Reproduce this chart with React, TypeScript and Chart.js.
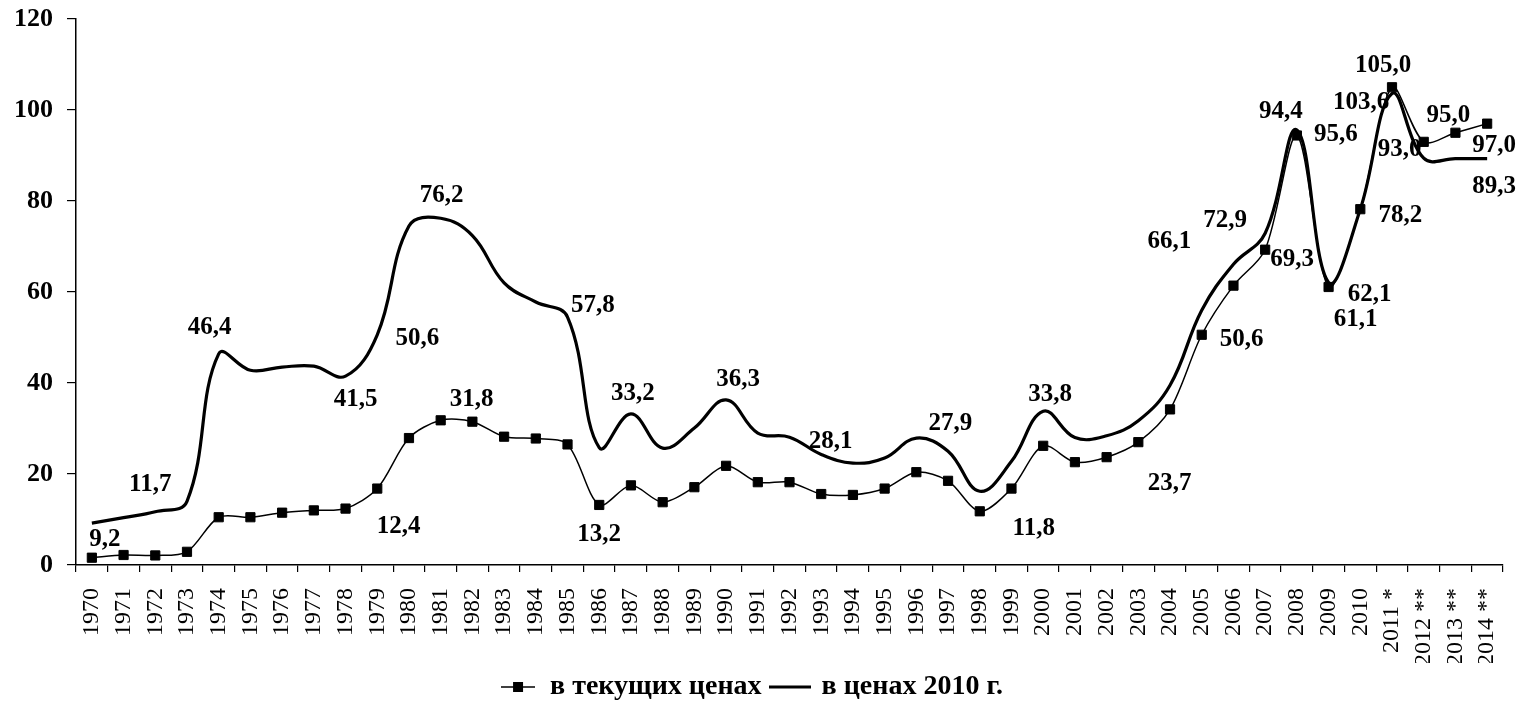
import React, { useEffect, useRef } from "react";
import { Chart, registerables } from "chart.js";

Chart.register(...registerables);

const years = [
  "1970", "1971", "1972", "1973", "1974", "1975", "1976", "1977", "1978", "1979",
  "1980", "1981", "1982", "1983", "1984", "1985", "1986", "1987", "1988", "1989",
  "1990", "1991", "1992", "1993", "1994", "1995", "1996", "1997", "1998", "1999",
  "2000", "2001", "2002", "2003", "2004", "2005", "2006", "2007", "2008", "2009",
  "2010", "2011 *", "2012 **", "2013 **", "2014 **",
];

const currentPrices = [
  1.6, 2.2, 2.1, 2.9, 10.5, 10.5, 11.5, 12.0, 12.4, 16.8,
  27.9, 31.8, 31.5, 28.2, 27.8, 26.5, 13.2, 17.5, 13.8, 17.1,
  21.8, 18.2, 18.2, 15.6, 15.4, 16.8, 20.4, 18.5, 11.8, 16.8,
  26.2, 22.6, 23.7, 27.0, 34.2, 50.6, 61.4, 69.3, 94.4, 61.1,
  78.2, 105.0, 93.0, 95.0, 97.0,
];

const constantPrices = [
  9.2, 10.4, 11.7, 14.0, 46.4, 42.8, 43.5, 43.7, 41.5, 50.6,
  74.5, 76.2, 72.4, 62.0, 57.8, 54.5, 25.8, 33.2, 25.7, 30.1,
  36.3, 29.0, 28.1, 24.3, 22.4, 23.5, 27.9, 25.0, 16.2, 22.8,
  33.8, 28.0, 28.4, 31.7, 39.5, 56.0, 66.1, 72.9, 95.6, 62.1,
  78.2, 103.6, 89.4, 89.3, 89.3,
];

const seriesNames = ["в текущих ценах", "в ценах 2010 г."];

// indices of points carrying a value label
const currentLabelIdx = [8, 11, 16, 28, 32, 35, 37, 38, 39, 40, 41, 42, 43, 44];
const constantLabelIdx = [0, 2, 4, 8, 9, 11, 14, 17, 20, 22, 26, 30, 36, 37, 38, 39, 41, 44];

// label placement (style): pixel offsets from the point
const labelPlacement: Array<Record<number, [number, number]>> = [
  {
    8: [53, 18], 11: [31, -21], 16: [0, 30], 28: [54, 17], 32: [63, 26],
    35: [40, 5], 37: [27, 10], 38: [-16, -24], 39: [27, 33], 40: [40, 6],
    41: [-9, -22], 42: [-24, 8], 43: [-7, -17], 44: [7, 22],
  },
  {
    0: [13, 16], 2: [-5, -27], 4: [-9, -26], 8: [10, 23], 9: [40, 4],
    11: [1, -23], 14: [57, 4], 17: [2, -20], 20: [12, -20], 22: [41, 4],
    26: [34, -15], 30: [7, -17], 36: [-64, -23], 37: [-40, -13], 38: [39, 5],
    39: [41, 12], 41: [-31, 9], 44: [7, 28],
  },
];

const SERIF = '"Liberation Serif", "Times New Roman", "DejaVu Serif", serif';

const valueLabelPlugin = {
  id: "valueLabels",
  afterDatasetsDraw(chart: any) {
    const ctx = chart.ctx;
    ctx.save();
    ctx.font = `bold 25px ${SERIF}`;
    ctx.fillStyle = "#000";
    ctx.textAlign = "center";
    ctx.textBaseline = "middle";
    [currentLabelIdx, constantLabelIdx].forEach((idxs, ds) => {
      const meta = chart.getDatasetMeta(ds);
      const data = chart.data.datasets[ds].data as number[];
      idxs.forEach((i) => {
        const el = meta.data[i];
        if (!el) return;
        const off = labelPlacement[ds][i] || [0, -20];
        const text = data[i].toFixed(1).replace(".", ",");
        ctx.fillText(text, el.x + off[0], el.y + off[1]);
      });
    });
    ctx.restore();
  },
};

function makeLegendIcon(withSquare: boolean, lineWidth: number): HTMLCanvasElement {
  const c = document.createElement("canvas");
  c.width = withSquare ? 34 : 42;
  c.height = 14;
  const g = c.getContext("2d")!;
  g.strokeStyle = "#000";
  g.lineWidth = lineWidth;
  g.beginPath();
  g.moveTo(0, 7);
  g.lineTo(c.width, 7);
  g.stroke();
  if (withSquare) {
    g.fillStyle = "#000";
    g.fillRect(c.width / 2 - 5, 2, 10, 10);
  }
  return c;
}

export default function App() {
  const ref = useRef<HTMLCanvasElement | null>(null);

  useEffect(() => {
    if (!ref.current) return;
    const icons = [makeLegendIcon(true, 1.5), makeLegendIcon(false, 3)];
    const chart = new Chart(ref.current, {
      type: "line",
      data: {
        labels: years,
        datasets: [
          {
            label: seriesNames[0],
            data: currentPrices,
            borderColor: "#000",
            backgroundColor: "#000",
            borderWidth: 1.5,
            pointStyle: "rect",
            pointRadius: 6.5,
            pointBorderWidth: 1,
            pointBackgroundColor: "#000",
            pointBorderColor: "#000",
            tension: 0.3,
          },
          {
            label: seriesNames[1],
            data: constantPrices,
            borderColor: "#000",
            backgroundColor: "#000",
            borderWidth: 3.2,
            pointRadius: 0,
            tension: 0.4,
          },
        ],
      },
      options: {
        responsive: false,
        animation: false,
        events: [],
        layout: { padding: { top: 19, right: 24, left: 0, bottom: 11 } },
        plugins: {
          tooltip: { enabled: false },
          title: { display: false },
          legend: {
            display: true,
            position: "bottom",
            labels: {
              usePointStyle: true,
              pointStyleWidth: 36,
              color: "#000",
              padding: 10,
              font: { family: SERIF, size: 28, weight: "bold" },
              generateLabels: (chart: any) =>
                chart.data.datasets.map((ds: any, i: number) => ({
                  text: ds.label,
                  pointStyle: icons[i],
                  fillStyle: "#000",
                  strokeStyle: "#000",
                  lineWidth: 0,
                  hidden: false,
                  datasetIndex: i,
                  fontColor: "#000",
                })),
            },
          },
        },
        scales: {
          x: {
            type: "category",
            offset: true,
            afterFit: (scale: any) => {
              scale.height = 98;
              scale.paddingLeft = 0;
              scale.paddingRight = 0;
            },
            grid: {
              display: true,
              offset: true,
              drawOnChartArea: false,
              drawTicks: true,
              tickLength: 7,
              color: "#000",
              lineWidth: 1.2,
            },
            border: { display: true, color: "#000", width: 1.5 },
            ticks: {
              autoSkip: false,
              minRotation: 90,
              maxRotation: 90,
              padding: 16,
              color: "#000",
              font: { family: SERIF, size: 24, weight: "normal" },
            },
          },
          y: {
            min: 0,
            max: 120,
            afterFit: (scale: any) => {
              scale.width = 76;
              scale.paddingTop = 0;
              scale.paddingBottom = 0;
            },
            grid: {
              display: true,
              drawOnChartArea: false,
              drawTicks: true,
              tickLength: 9,
              color: "#000",
              lineWidth: 1.2,
            },
            border: { display: true, color: "#000", width: 1.5 },
            ticks: {
              stepSize: 20,
              padding: 14,
              color: "#000",
              font: { family: SERIF, size: 26, weight: "bold" },
            },
          },
        },
      },
      plugins: [valueLabelPlugin],
    } as any);
    return () => chart.destroy();
  }, []);

  return (
    <div style={{ position: "fixed", left: 0, top: 0, width: 1527, height: 722, background: "#fff" }}>
      <canvas ref={ref} width={1527} height={722} />
    </div>
  );
}
